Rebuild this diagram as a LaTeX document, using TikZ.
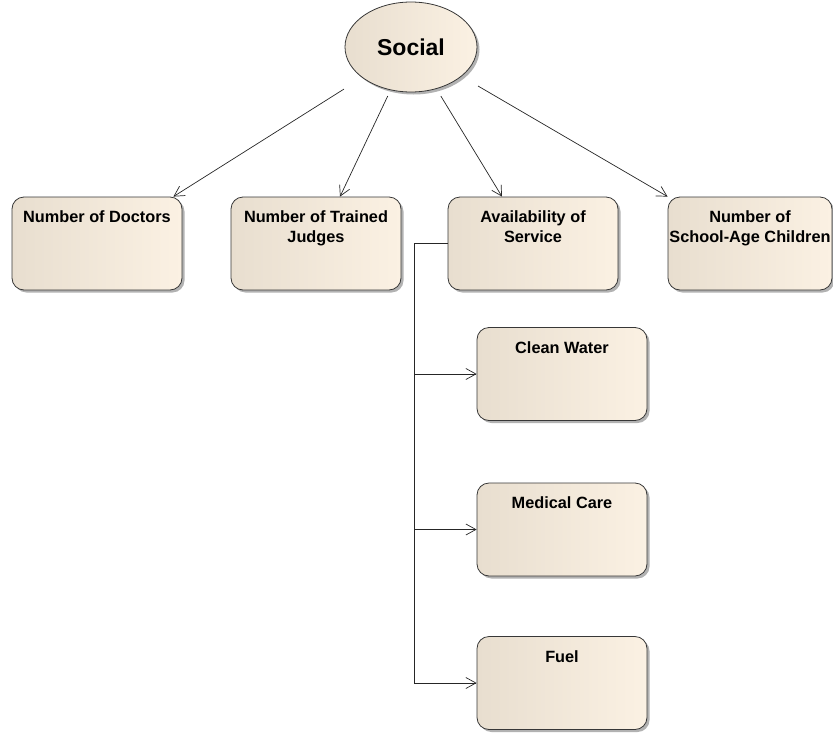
\documentclass[tikz,border=0pt]{standalone}
\usepackage{fontspec}
\setmainfont{Liberation Sans}
\usetikzlibrary{arrows.meta,shadows,calc,shapes.geometric}

\definecolor{fillL}{RGB}{232,222,207}
\definecolor{fillR}{RGB}{251,241,227}
\definecolor{edgegray}{RGB}{55,55,55}

\tikzset{
  softshadow/.style={drop shadow={shadow xshift=2.5pt, shadow yshift=-2.5pt, fill=black, opacity=0.3}},
  item/.style={rectangle, rounded corners=12pt, draw=edgegray, line width=0.8pt,
    left color=fillL, right color=fillR, minimum width=170pt, minimum height=93pt,
    inner sep=0pt, softshadow},
  itemtext/.style={anchor=north, inner sep=0pt, align=center,
    font=\bfseries\fontsize{16.3}{20}\selectfont},
  flow/.style={draw=black!85, line width=0.7pt, -{Straight Barb[length=10pt,width=11pt]}},
}

\begin{document}
\begin{tikzpicture}[x=1pt, y=-1pt]
  \useasboundingbox (0,0) rectangle (833,734);

  % root
  \node[ellipse, draw=edgegray, line width=0.8pt, left color=fillL, right color=fillR,
        minimum width=132pt, minimum height=90pt, inner sep=0pt, softshadow,
        font=\bfseries\fontsize{23}{27}\selectfont] (soc) at (411,47) {Social};
  % rectangular frame round the root, where its connectors start
  \node[rectangle, minimum width=134pt, minimum height=98pt, inner sep=0pt, outer sep=0pt]
        (socframe) at (411,47) {};

  % first row
  \node[item] (doc) at (97,243.5) {};
  \node[item] (judges) at (316,243.5) {};
  \node[item] (avail) at (533,243.5) {};
  \node[item, minimum width=164pt] (school) at (750,243.5) {};

  % services
  \node[item] (water) at (562,374) {};
  \node[item] (medical) at (562,529.5) {};
  \node[item] (fuel) at (562,683) {};

  % labels
  \node[itemtext] (doc-t) at ($(doc.north)+(0,14.3)$) {Number of Doctors};
  \node[itemtext] (judges-t) at ($(judges.north)+(0,14.3)$) {Number of Trained\\Judges};
  \node[itemtext] (avail-t) at ($(avail.north)+(0,14.3)$) {Availability of\\Service};
  \node[itemtext] (school-t) at ($(school.north)+(0,14.3)$) {Number of\\School-Age Children};
  \node[itemtext] (water-t) at ($(water.north)+(0,14.3)$) {Clean Water};
  \node[itemtext] (medical-t) at ($(medical.north)+(0,14.3)$) {Medical Care};
  \node[itemtext] (fuel-t) at ($(fuel.north)+(0,14.3)$) {Fuel};

  % root to first row
  \draw[flow] (socframe) -- ($(doc.north east)+(-9,0)$);
  \draw[flow] (socframe) -- ($(judges.north)+(24,0)$);
  \draw[flow] (socframe) -- ($(avail.north)+(-31,0)$);
  \draw[flow] (socframe) -- (school.north west);

  % service bus
  \coordinate (bus) at ($(avail.west)+(-33,0)$);
  \draw[flow] (avail.west) -- (bus) |- (fuel.west);
  \draw[flow] (bus |- water.west) -- (water.west);
  \draw[flow] (bus |- medical.west) -- (medical.west);
\end{tikzpicture}
\end{document}
